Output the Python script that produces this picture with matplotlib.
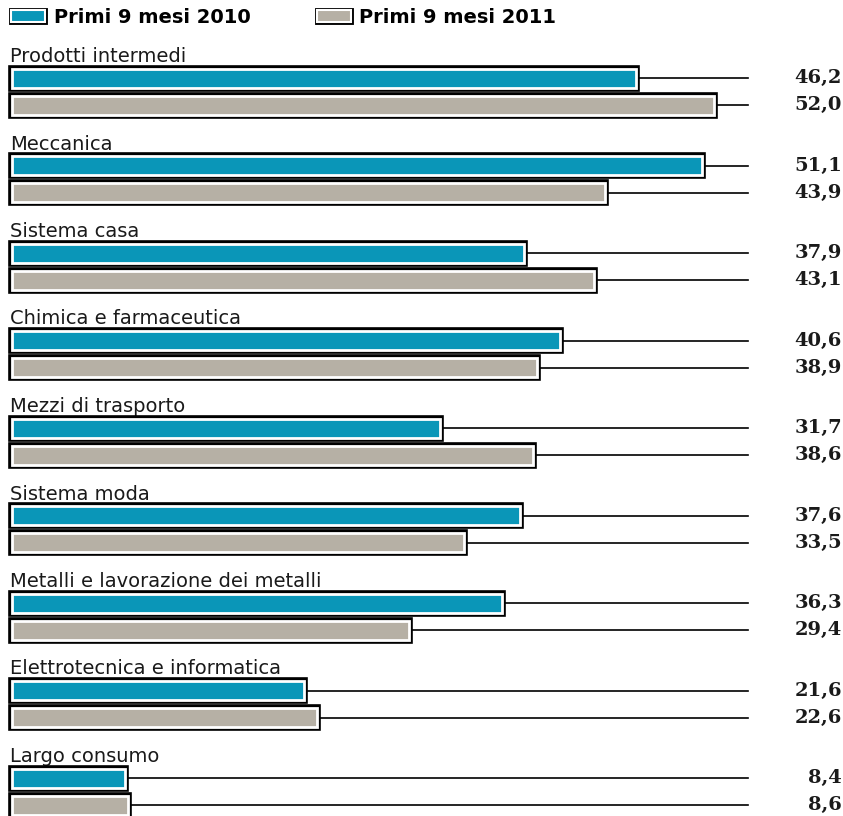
import matplotlib
matplotlib.use("Agg")
import matplotlib.pyplot as plt
from matplotlib.patches import Patch
import matplotlib.patheffects as pe

categories = ["Prodotti intermedi", "Meccanica", "Sistema casa",
              "Chimica e farmaceutica", "Mezzi di trasporto", "Sistema moda",
              "Metalli e lavorazione dei metalli", "Elettrotecnica e informatica",
              "Largo consumo"]
v2010 = [46.2, 51.1, 37.9, 40.6, 31.7, 37.6, 36.3, 21.6, 8.4]
v2011 = [52.0, 43.9, 43.1, 38.9, 38.6, 33.5, 29.4, 22.6, 8.6]
series_labels = ["Primi 9 mesi 2010", "Primi 9 mesi 2011"]
colors = ["#0a96b8", "#b6b0a5"]

W, H = 843, 816
fig = plt.figure(figsize=(W / 100, H / 100), dpi=100)
fig.patch.set_facecolor("white")
scale = 13.5  # px per unit
left_px = 12
ax = fig.add_axes([left_px / W, 0, (W - left_px) / W, 1])
ax.set_xlim(0, (W - left_px) / scale)
ax.set_ylim(H, 0)
ax.axis("off")

group_step = 87.5
label_base0 = 62
bar_h = 19
line_end = (748 - left_px) / scale
value_x = (W - 1 - left_px) / scale
label_x = -2 / scale

effects = [pe.Stroke(linewidth=5.5, foreground="black"), pe.Normal()]

for i, cat in enumerate(categories):
    lb = label_base0 + i * group_step
    ax.text(label_x, lb, cat, fontsize=14, family="DejaVu Sans", va="baseline",
            ha="left", color="#1a1a1a", clip_on=False)
    for j, vals in enumerate([v2010, v2011]):
        yc = lb + 16 + j * 27
        v = vals[i]
        bars = ax.barh(yc, v, height=bar_h, color=colors[j], edgecolor="white",
                       linewidth=2, zorder=3)
        for b in bars:
            b.set_path_effects(effects)
            b.set_clip_on(False)
        ax.plot([v, line_end], [yc, yc], color="black", lw=1.2, zorder=2)
        ax.text(value_x, yc, f"{v:.1f}".replace(".", ","), fontsize=14,
                family="DejaVu Serif", fontweight="bold", ha="right",
                va="center", color="#1a1a1a")

handles = [Patch(facecolor=c, edgecolor="white", linewidth=1.5,
                 path_effects=[pe.Stroke(linewidth=3.5, foreground="black"), pe.Normal()])
           for c in colors]
leg = ax.legend(handles, series_labels, ncol=2, loc="upper left",
                bbox_to_anchor=(-1 / (W - left_px), 1.0 - 8 / H), frameon=False,
                prop={"family": "DejaVu Sans", "weight": "bold", "size": 14},
                handlelength=1.75, handleheight=0.6, handletextpad=0.45,
                columnspacing=3.4, borderaxespad=0, borderpad=0)

fig.savefig("out.png", dpi=100, facecolor="white")
